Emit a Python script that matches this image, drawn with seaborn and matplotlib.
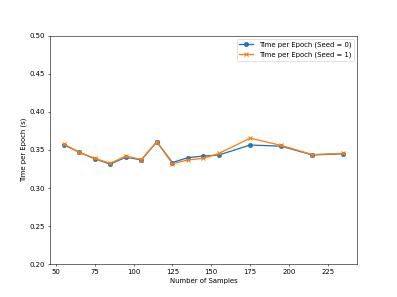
import pandas as pd
import matplotlib
matplotlib.use("Agg")
import matplotlib.pyplot as plt
import seaborn as sns

samples = [55, 65, 75, 85, 95, 105, 115, 125, 135, 145, 155, 175, 195, 215, 235]
time_seed0 = [0.357, 0.347, 0.3385, 0.3315, 0.3405, 0.337, 0.3605, 0.3335, 0.340, 0.342, 0.3435, 0.3565, 0.355, 0.3435, 0.345]
time_seed1 = [0.358, 0.347, 0.339, 0.3325, 0.342, 0.3375, 0.361, 0.332, 0.337, 0.339, 0.3455, 0.3655, 0.356, 0.344, 0.3455]

df = pd.DataFrame({"samples": samples, "seed0": time_seed0, "seed1": time_seed1})

DPI = 397 / 8
fig = plt.figure(figsize=(8, 297 / DPI), dpi=DPI)
ax = sns.lineplot(data=df, x="samples", y="seed0", marker="o", color="C0",
                  markeredgecolor="C0", linewidth=1.9, markersize=6.5,
                  label="Time per Epoch (Seed = 0)")
sns.lineplot(data=df, x="samples", y="seed1", marker="x", color="C1",
             markeredgecolor="C1", linewidth=1.9, markersize=6.5,
             markeredgewidth=1.5,
             label="Time per Epoch (Seed = 1)", ax=ax)

ax.set_ylim(0.2, 0.5)
ax.set_xlabel("Number of Samples")
ax.set_ylabel("Time per Epoch (s)")
ax.legend(loc="upper right")

plt.savefig("out.png", dpi=DPI)
